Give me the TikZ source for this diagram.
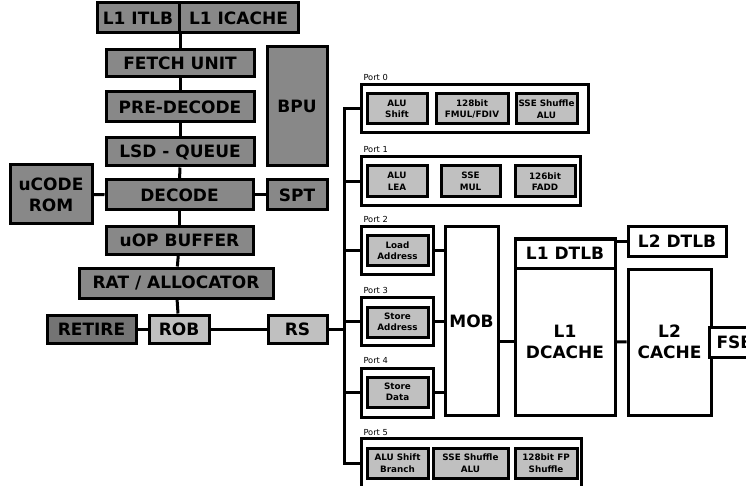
\documentclass[tikz,border=0pt]{standalone}
\usepackage{fontspec}
\setmainfont{DejaVu Sans}
\definecolor{unitgray}{HTML}{888888}
\definecolor{retiregray}{HTML}{747474}
\definecolor{paleunit}{HTML}{C0C0C0}
\begin{document}
\begin{tikzpicture}[
  x=1pt, y=-1pt, line width=3pt,
  every node/.style={rectangle, draw, line width=3pt, inner sep=0pt, align=center,
    font=\fontsize{17}{21}\selectfont\bfseries},
  unit/.style={fill=unitgray},
  pale/.style={fill=paleunit},
  portbox/.style={fill=white},
  exec/.style={fill=paleunit, font=\fontsize{8.8}{11.5}\selectfont\bfseries},
  portname/.style={draw=none, anchor=west, font=\fontsize{8.3}{9}\selectfont}
  ]

  \useasboundingbox (0,0) rectangle (746,486);
  \clip (0,0) rectangle (746,486);

  % Define nodes
  % Front end
  \node[unit, minimum width=82, minimum height=30] (itlb) at (138,18) {L1 ITLB};
  \node[unit, minimum width=119, minimum height=30] (icache) at (238.5,18) {L1 ICACHE};
  \node[unit, minimum width=148, minimum height=27] (fetch) at (180,63.5) {FETCH UNIT};
  \node[unit, minimum width=148, minimum height=30] (predec) at (180,107) {PRE-DECODE};
  \node[unit, minimum width=148, minimum height=28] (lsd) at (180,152) {LSD - QUEUE};
  \node[unit, minimum width=60, minimum height=119] (bpu) at (297,106.5) {BPU};
  \node[unit, minimum width=82, minimum height=59] (ucode) at (51,194.5) {uCODE\\ROM};
  \node[unit, minimum width=147, minimum height=30] (decode) at (179.5,195) {DECODE};
  \node[unit, minimum width=60, minimum height=30] (spt) at (297,195) {SPT};
  \node[unit, minimum width=147, minimum height=27] (uop) at (179.5,240.5) {uOP BUFFER};
  \node[unit, minimum width=194, minimum height=30] (rat) at (176,283) {RAT / ALLOCATOR};
  \node[fill=retiregray, minimum width=89, minimum height=28] (retire) at (91.5,329) {RETIRE};
  \node[pale, minimum width=60, minimum height=28] (rob) at (179,329) {ROB};
  \node[pale, minimum width=59, minimum height=28] (rs) at (297.5,329) {RS};

  % Ports
  \node[portbox, minimum width=227, minimum height=48] (p0) at (474.5,109) {};
  \node[portbox, minimum width=219, minimum height=49] (p1) at (470.5,181.5) {};
  \node[portbox, minimum width=72, minimum height=47] (p2) at (397,250.5) {};
  \node[portbox, minimum width=72, minimum height=48] (p3) at (397,321) {};
  \node[portbox, minimum width=72, minimum height=49] (p4) at (397,392.5) {};
  \node[portbox, minimum width=220, minimum height=50] (p5) at (471,463) {};

  \node[portname] (n0) at (362,77.5) {Port 0};
  \node[portname] (n1) at (362,149.5) {Port 1};
  \node[portname] (n2) at (362,219) {Port 2};
  \node[portname] (n3) at (362,290) {Port 3};
  \node[portname] (n4) at (362,361) {Port 4};
  \node[portname] (n5) at (362,432.5) {Port 5};

  \node[exec, minimum width=60, minimum height=30] (alu0) at (397,109) {ALU\\Shift};
  \node[exec, minimum width=72, minimum height=30] (fmul) at (472,109) {128bit\\FMUL/FDIV};
  \node[exec, minimum width=61, minimum height=30] (shuf0) at (546.5,109) {SSE Shuffle\\ALU};
  \node[exec, minimum width=60, minimum height=31] (alu1) at (397,181.5) {ALU\\LEA};
  \node[exec, minimum width=59, minimum height=31] (smul) at (470.5,181.5) {SSE\\MUL};
  \node[exec, minimum width=60, minimum height=31] (fadd) at (545,181.5) {126bit\\FADD};
  \node[exec, minimum width=61, minimum height=29] (ldaddr) at (397.5,250.5) {Load\\Address};
  \node[exec, minimum width=61, minimum height=30] (staddr) at (397.5,322) {Store\\Address};
  \node[exec, minimum width=61, minimum height=30] (stdata) at (397.5,392) {Store\\Data};
  \node[exec, minimum width=61, minimum height=30] (alu5) at (397.5,463) {ALU Shift\\Branch};
  \node[exec, minimum width=75, minimum height=30] (shuf5) at (470.5,463) {SSE Shuffle\\ALU};
  \node[exec, minimum width=62, minimum height=30] (fpshuf) at (546,463) {128bit FP\\Shuffle};

  % Memory
  \node[portbox, minimum width=53, minimum height=188] (mob) at (471.5,321) {MOB};
  \node[portbox, minimum width=100, minimum height=29] (dtlb1) at (565,253.5) {L1 DTLB};
  \node[portbox, minimum width=100, minimum height=147] (dcache) at (565,341.5) {L1\\DCACHE};
  \node[portbox, minimum width=98, minimum height=29] (dtlb2) at (677,241.5) {L2 DTLB};
  \node[portbox, minimum width=83, minimum height=146] (l2) at (669.5,342) {L2\\CACHE};
  \node[portbox, minimum width=52, minimum height=30] (fsb) at (735,342) {FSB};

  \coordinate (bustop) at (344,109);
  \coordinate (busbot) at (344,463);

  % Front end chain
  \draw (itlb.south east) -- (itlb.south east |- fetch.north);
  \draw (fetch) -- (predec);
  \draw (predec) -- (lsd);
  \draw (lsd) -- (decode);
  \draw (decode) -- (uop);
  \draw (uop) -- (rat);
  \draw (rat) -- (rob);
  \draw (ucode) -- (decode);
  \draw (decode) -- (spt);
  \draw (retire) -- (rob);
  \draw (rob) -- (rs);

  % Dispatch bus
  \draw (p0) -- (bustop) -- (busbot) -- (p5);
  \draw (p1) -- (p1 -| bustop);
  \draw (p2) -- (p2 -| bustop);
  \draw (p3) -- (p3 -| bustop);
  \draw (p4) -- (p4 -| bustop);
  \draw (rs) -- (rs -| bustop);

  % Memory side
  \draw (p2) -- (p2 -| mob.west);
  \draw (p3) -- (p3 -| mob.west);
  \draw (p4) -- (p4 -| mob.west);
  \draw (dcache) -- (dcache -| mob.east);
  \draw (dtlb2) -- (dtlb2 -| dtlb1.east);
  \draw (dcache) -- (l2);

\end{tikzpicture}
\end{document}
